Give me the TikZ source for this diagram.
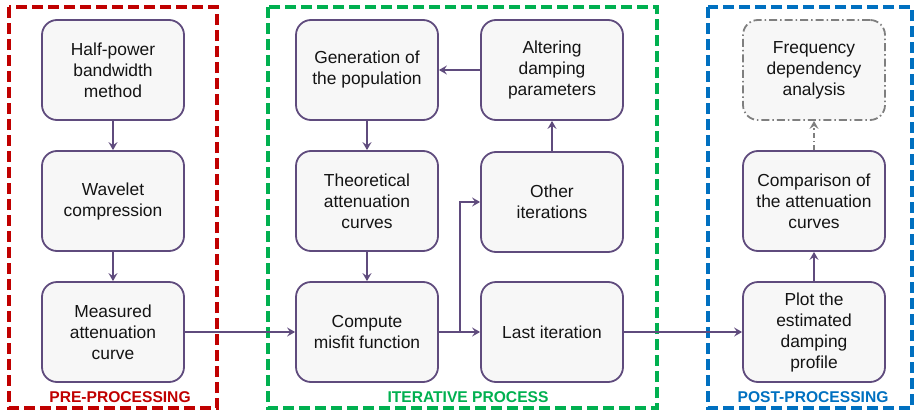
\documentclass[tikz,border=0pt]{standalone}
\usepackage{fontspec}
\setmainfont{Liberation Sans}
\usetikzlibrary{arrows.meta}
\definecolor{boxline}{RGB}{95,75,125}
\definecolor{boxfill}{RGB}{247,247,247}
\definecolor{redf}{RGB}{192,0,0}
\definecolor{greenf}{RGB}{0,176,80}
\definecolor{bluef}{RGB}{0,112,192}
\definecolor{grayd}{RGB}{127,127,127}
\definecolor{txt}{RGB}{20,20,20}
\begin{document}
\begin{tikzpicture}[x=1pt,y=-1pt,
  blk/.style={draw=boxline, fill=boxfill, line width=1.8pt, rounded corners=15pt,
    minimum width=142pt, minimum height=100pt, align=center, text=txt,
    font=\fontsize{17.4}{21}\selectfont, inner sep=2pt},
  dblk/.style={blk, draw=grayd, dash pattern=on 8pt off 3pt on 1.5pt off 3pt},
  frame/.style={line width=4pt, dash pattern=on 11pt off 5pt},
  flabel/.style={font=\fontsize{15.6}{18}\selectfont\bfseries},
  conn/.style={draw=boxline, line width=1.8pt, -{Stealth[length=8pt,width=9pt,inset=3pt]}},
  gconn/.style={draw=grayd, line width=1.8pt, dash pattern=on 5pt off 3pt on 1.5pt off 3pt,
    -{Stealth[length=8pt,width=9pt,inset=3pt]}}
]
\useasboundingbox (0,0) rectangle (918,415);
% frames
\draw[frame, redf] (9,7) rectangle (217,408);
\draw[frame, greenf] (268,7) rectangle (657,408);
\draw[frame, bluef] (708,7) rectangle (912,408);
\node[flabel, text=redf] (lpre) at (120,397) {PRE-PROCESSING};
\node[flabel, text=greenf] (lit) at (468,397) {ITERATIVE PROCESS};
\node[flabel, text=bluef] (lpost) at (813,397) {POST-PROCESSING};
% boxes
\node[blk] (half) at (113,70) {Half-power\\bandwidth\\method};
\node[blk] (wav) at (113,201) {Wavelet\\compression};
\node[blk] (meas) at (113,332) {Measured\\attenuation\\curve};
\node[blk] (gen) at (367,70) {Generation of\\the population};
\node[blk] (theo) at (367,201) {Theoretical\\attenuation\\curves};
\node[blk] (comp) at (367,332) {Compute\\misfit function};
\node[blk] (alt) at (552,70) {Altering\\damping\\parameters};
\node[blk] (other) at (552,202) {Other\\iterations};
\node[blk] (last) at (552,332) {Last iteration};
\node[dblk] (freq) at (814,70) {Frequency\\dependency\\analysis};
\node[blk] (compar) at (814,201) {Comparison of\\the attenuation\\curves};
\node[blk] (plot) at (814,332) {Plot the\\estimated\\damping\\profile};
% connectors
\coordinate (j) at (460,332);
\draw[conn] (half) -- (wav);
\draw[conn] (wav) -- (meas);
\draw[conn] (meas) -- (comp);
\draw[conn] (gen) -- (theo);
\draw[conn] (theo) -- (comp);
\draw[conn] (comp) -- (last);
\draw[conn] (j) |- (other.west);
\draw[conn] (other) -- (alt);
\draw[conn] (alt) -- (gen);
\draw[conn] (last) -- (plot);
\draw[conn] (plot) -- (compar);
\draw[gconn] (compar) -- (freq);
\end{tikzpicture}
\end{document}
